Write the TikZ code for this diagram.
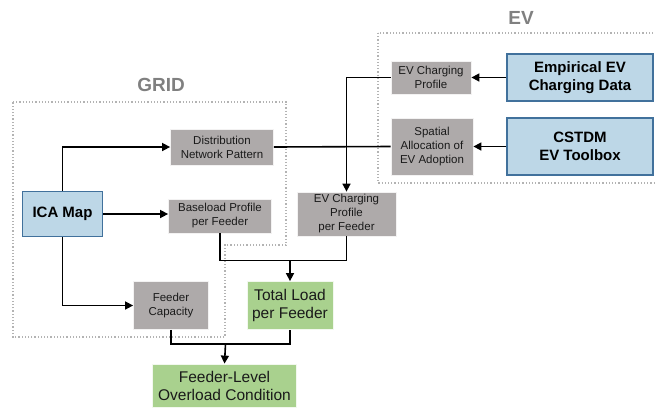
\documentclass[tikz,border=0pt]{standalone}
\usepackage{fontspec}
\setmainfont{Liberation Sans}
\usetikzlibrary{arrows.meta}
\definecolor{boxgray}{HTML}{AEAAAA}
\definecolor{boxblue}{HTML}{BDD7E7}
\definecolor{lineblue}{HTML}{41719C}
\definecolor{boxgreen}{HTML}{A9D18E}
\definecolor{labelgray}{HTML}{808080}
\definecolor{txt}{HTML}{1A1A1A}
\begin{document}
\begin{tikzpicture}[x=1pt,y=-1pt,
    graybox/.style={fill=boxgray,draw=white!85!boxgray,line width=0.8pt,align=center,
      font=\fontsize{11.5}{14}\selectfont,text=txt,inner sep=0pt},
    bluebox/.style={fill=boxblue,draw=lineblue,line width=1.2pt,align=center,
      font=\fontsize{15}{17.5}\selectfont\bfseries,inner sep=0pt},
    greenbox/.style={fill=boxgreen,draw=white!85!boxgreen,line width=0.8pt,align=center,
      font=\fontsize{15.5}{18}\selectfont,text=txt,inner sep=0pt},
    region/.style={draw=labelgray!60,dotted,line width=1.2pt},
    arr/.style={-{Triangle[length=8pt,width=8pt]},line width=1.6pt},
    ln/.style={line width=1.6pt}]
  \useasboundingbox (0,0) rectangle (655,408);
  % regions
  \draw[region] (13,102) -- (286,102) -- (286,245) -- (225,245) -- (225,337) -- (13,337) -- cycle;
  \draw[region] (378,33) rectangle (660,183);
  \node[text=labelgray,font=\fontsize{19}{22}\selectfont\bfseries] (gridlbl) at (161,85) {GRID};
  \node[text=labelgray,font=\fontsize{19}{22}\selectfont\bfseries] (evlbl) at (521,18) {EV};
  % boxes
  \node[bluebox,minimum width=80pt,minimum height=45pt] (ica) at (62.5,214) {ICA Map};
  \node[graybox,minimum width=103pt,minimum height=36pt] (dist) at (222,147) {Distribution\\Network Pattern};
  \node[graybox,minimum width=103pt,minimum height=34pt] (base) at (220,216) {Baseload Profile\\per Feeder};
  \node[graybox,minimum width=75pt,minimum height=48pt] (cap) at (171,305.5) {Feeder\\Capacity};
  \node[greenbox,minimum width=86pt,minimum height=48pt] (total) at (290,305.5) {Total Load\\per Feeder};
  \node[greenbox,minimum width=144pt,minimum height=43pt] (over) at (224.5,385.5) {Feeder-Level\\Overload Condition};
  \node[graybox,minimum width=80pt,minimum height=33pt] (evprof) at (431,77.5) {EV Charging\\Profile};
  \node[graybox,minimum width=82pt,minimum height=57pt] (spatial) at (432,146.5) {Spatial\\Allocation of\\EV Adoption};
  \node[bluebox,minimum width=146pt,minimum height=47pt] (emp) at (580,77.5) {Empirical EV\\Charging Data};
  \node[bluebox,minimum width=146pt,minimum height=57pt] (cstdm) at (580,146.5) {CSTDM\\EV Toolbox};
  \node[graybox,minimum width=99pt,minimum height=44pt] (evpf) at (346.5,214) {EV Charging\\Profile\\per Feeder};
  % junctions
  \coordinate (jtop) at (290,260.5);
  \coordinate (jbot) at (225.5,344);
  % connectors
  \draw[arr] (ica.north) |- (dist.west);
  \draw[arr] (ica.east) -- (base.west |- ica.east);
  \draw[arr] (ica.south) |- (cap.west);
  \draw[ln] (dist.east) -- (spatial.west);
  \draw[arr] (emp.west) -- (evprof.east);
  \draw[arr] (cstdm.west) -- (spatial.east);
  \draw[arr] (evprof.west) -| (evpf.north);
  \draw[ln] (base.south) |- (jtop) -| (evpf.south);
  \draw[arr] (jtop) -- (total.north);
  \draw[ln] (cap.south) |- (jbot) -| (total.south);
  \draw[arr] (jbot) -- (over.north);
\end{tikzpicture}
\end{document}
